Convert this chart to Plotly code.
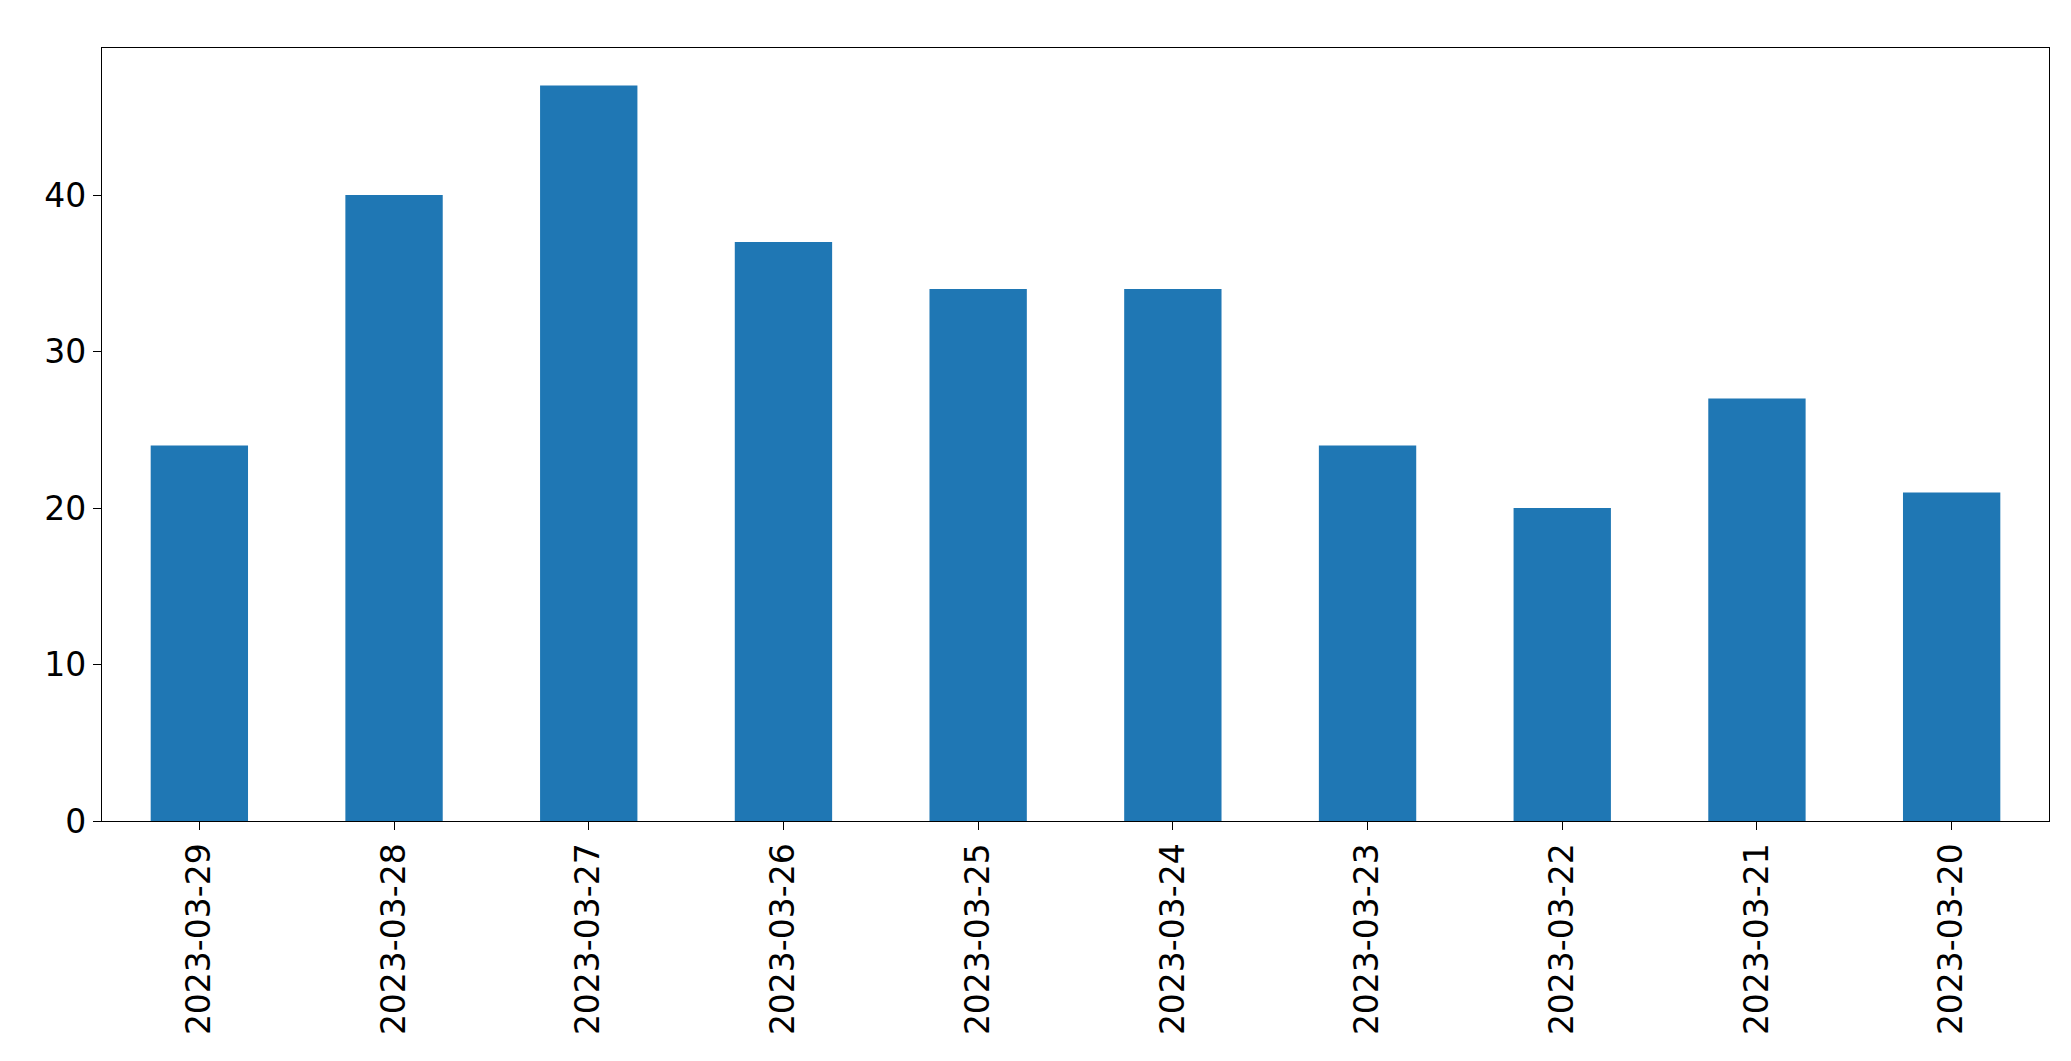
import plotly.graph_objects as go

dates = ["2023-03-29","2023-03-28","2023-03-27","2023-03-26","2023-03-25",
         "2023-03-24","2023-03-23","2023-03-22","2023-03-21","2023-03-20"]
counts = [24, 40, 47, 37, 34, 34, 24, 20, 27, 21]

fig = go.Figure(go.Bar(x=dates, y=counts, width=0.5, marker_color="#1f77b4",
                       marker_line_width=0))
fig.update_layout(
    width=2071, height=1061, plot_bgcolor="white", paper_bgcolor="white",
    margin=dict(l=94, r=30, t=40, b=248), showlegend=False,
    font=dict(family="DejaVu Sans", size=33, color="black"),
)
fig.update_xaxes(type="category", tickangle=-90, showline=True, linecolor="black",
                 linewidth=1.3, mirror=True, ticks="outside", ticklen=8,
                 tickcolor="black", range=[-0.5, 9.5])
fig.update_yaxes(range=[0, 49.4], tickvals=[0,10,20,30,40], showgrid=False,
                 showline=True, linecolor="black", linewidth=1.3, mirror=True,
                 ticks="outside", ticklen=8, tickcolor="black", zeroline=False)
fig.write_html("out.html")
